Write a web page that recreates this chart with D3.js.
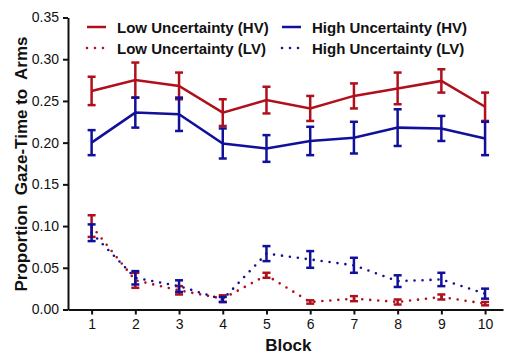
<!DOCTYPE html>
<meta charset="utf-8">
<script src="https://d3js.org/d3.v7.min.js"></script>
<body style="margin:0;background:#fff">
<div id="my_dataviz"></div>
</body>
<script>
// blocks on the x axis
var blocks = [1, 2, 3, 4, 5, 6, 7, 8, 9, 10];
var yTicks = [0, 0.05, 0.10, 0.15, 0.20, 0.25, 0.30, 0.35];

// means and standard errors
var lowHV     = [0.262, 0.275, 0.268, 0.236, 0.251, 0.241, 0.256, 0.265, 0.274, 0.243];
var lowHVse   = [0.017, 0.021, 0.016, 0.016, 0.016, 0.015, 0.015, 0.019, 0.014, 0.017];
var highHV    = [0.200, 0.236, 0.234, 0.199, 0.193, 0.202, 0.206, 0.218, 0.217, 0.205];
var highHVse  = [0.015, 0.018, 0.020, 0.018, 0.016, 0.017, 0.019, 0.022, 0.015, 0.020];
var lowLV     = [0.100, 0.035, 0.023, 0.013, 0.041, 0.009, 0.013, 0.009, 0.015, 0.007];
var lowLVse   = [0.013, 0.009, 0.005, 0.004, 0.003, 0.002, 0.003, 0.003, 0.003, 0.002];
var highLV    = [0.092, 0.038, 0.028, 0.012, 0.067, 0.060, 0.053, 0.034, 0.036, 0.019];
var highLVse  = [0.010, 0.008, 0.007, 0.003, 0.009, 0.010, 0.009, 0.007, 0.008, 0.006];

var red = "#b0101c", blue = "#10109a";

var series = [
  {name: "Low Uncertainty (HV)",  vals: lowHV,  se: lowHVse,  color: red,  dotted: false},
  {name: "High Uncertainty (HV)", vals: highHV, se: highHVse, color: blue, dotted: false},
  {name: "Low Uncertainty (LV)",  vals: lowLV,  se: lowLVse,  color: red,  dotted: true},
  {name: "High Uncertainty (LV)", vals: highLV, se: highLVse, color: blue, dotted: true}
];

var W = 505, H = 356;
var svg = d3.select("#my_dataviz").append("svg")
  .attr("width", W).attr("height", H)
  .style("font-family", "Liberation Sans, Arial, sans-serif");

var x = d3.scaleLinear().domain([0.46, 10.41]).range([68, 503]);
var y = d3.scaleLinear().domain([0, 0.35]).range([309.5, 17.5]);

// axes
var xAxis = svg.append("g")
  .attr("transform", "translate(0," + y(0) + ")")
  .call(d3.axisBottom(x).tickValues(blocks).tickSize(5).tickSizeOuter(0).tickPadding(5));
var yAxis = svg.append("g")
  .attr("transform", "translate(" + x.range()[0] + ",0)")
  .call(d3.axisLeft(y).tickValues(yTicks).tickFormat(d3.format(".2f")).tickSize(5).tickSizeOuter(0).tickPadding(4));

svg.selectAll(".domain, .tick line").attr("stroke", "#111").attr("stroke-width", 2);
svg.selectAll(".tick text").attr("fill", "#111").style("font-size", "14px")
  .style("font-family", "Liberation Sans, Arial, sans-serif");

// axis titles
svg.append("text")
  .attr("x", (x(1) + x(10)) / 2).attr("y", 351)
  .attr("text-anchor", "middle")
  .style("font-size", "17px").style("font-weight", "bold").attr("fill", "#111")
  .text("Block");

svg.append("text")
  .attr("transform", "translate(27,164) rotate(-90)")
  .attr("text-anchor", "middle")
  .style("font-size", "17px").style("font-weight", "bold").attr("fill", "#111")
  .style("white-space", "pre")
  .text("Proportion  Gaze-Time to  Arms");

var line = d3.line()
  .x(function(d, i) { return x(blocks[i]); })
  .y(function(d) { return y(d); });

series.forEach(function(s) {
  var g = svg.append("g");
  g.append("path")
    .datum(s.vals)
    .attr("d", line)
    .attr("fill", "none")
    .attr("stroke", s.color)
    .attr("stroke-width", s.dotted ? 2.6 : 2.5)
    .attr("stroke-linecap", s.dotted ? "round" : "butt")
    .attr("stroke-dasharray", s.dotted ? "0,8" : null);

  var cap = 4;
  var eb = g.selectAll(".eb").data(s.vals).enter().append("g");
  eb.append("line")
    .attr("x1", function(d, i) { return x(blocks[i]); })
    .attr("x2", function(d, i) { return x(blocks[i]); })
    .attr("y1", function(d, i) { return y(d - s.se[i]); })
    .attr("y2", function(d, i) { return y(d + s.se[i]); })
    .attr("stroke", s.color).attr("stroke-width", 2.5);
  [-1, 1].forEach(function(sg) {
    eb.append("line")
      .attr("x1", function(d, i) { return x(blocks[i]) - cap; })
      .attr("x2", function(d, i) { return x(blocks[i]) + cap; })
      .attr("y1", function(d, i) { return y(d + sg * s.se[i]); })
      .attr("y2", function(d, i) { return y(d + sg * s.se[i]); })
      .attr("stroke", s.color).attr("stroke-width", 2.5);
  });
});

// legend
var legPos = [[87, 27], [282, 27], [87, 48], [282, 48]];
series.forEach(function(s, i) {
  var lg = svg.append("g").attr("transform", "translate(" + legPos[i][0] + "," + legPos[i][1] + ")");
  lg.append("line")
    .attr("x1", 0).attr("x2", 19).attr("y1", 0).attr("y2", 0)
    .attr("stroke", s.color).attr("stroke-width", s.dotted ? 2.6 : 2.5)
    .attr("stroke-linecap", s.dotted ? "round" : "butt")
    .attr("stroke-dasharray", s.dotted ? "0,8" : null);
  lg.append("text")
    .attr("x", 30).attr("y", 5.5)
    .style("font-size", "15px").style("font-weight", "bold").attr("fill", "#111")
    .text(s.name);
});
</script>
